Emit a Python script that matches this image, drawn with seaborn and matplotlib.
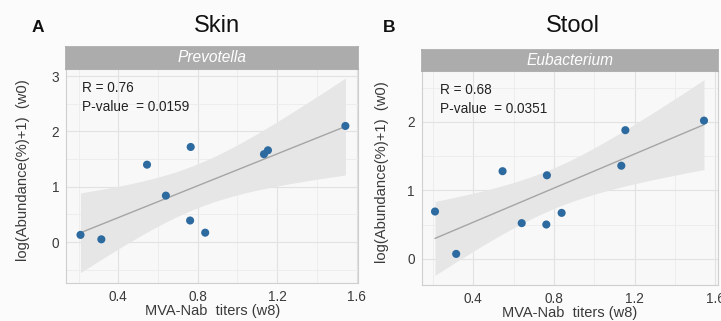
import numpy as np
import pandas as pd
import matplotlib
matplotlib.use("Agg")
import matplotlib.pyplot as plt
from matplotlib.ticker import AutoMinorLocator, FixedLocator
import seaborn as sns

# ---- data ----
titers = [0.21, 0.315, 0.545, 0.64, 0.765, 0.762, 0.838, 1.134, 1.154, 1.544]
skin_abund = [0.13, 0.05, 1.40, 0.84, 1.72, 0.39, 0.17, 1.59, 1.66, 2.10]
stool_abund = [0.69, 0.07, 1.28, 0.52, 1.22, 0.50, 0.67, 1.36, 1.88, 2.02]
panel_titles = ["Skin", "Stool"]
panel_letters = ["A", "B"]
genera = ["Prevotella", "Eubacterium"]
stats = ["R = 0.76\nP-value  = 0.0159", "R = 0.68\nP-value  = 0.0351"]
x_ticks = [0.4, 0.8, 1.2, 1.6]
y_ticks_list = [[0, 1, 2, 3], [0, 1, 2]]
T_975_DF8 = 2.306  # t quantile for a 95% band with n=10

sns.set_theme(style="whitegrid")
plt.rcParams["font.family"] = ["Liberation Sans", "DejaVu Sans"]

W, H = 721, 321
fig = plt.figure(figsize=(W / 100, H / 100), dpi=100)
fig.patch.set_facecolor("#FBFBFB")

def fx(px):
    return px / W

def fy(py):
    return 1 - py / H

layouts = [
    dict(l=66, r=358.3, t=69, b=283, st=47, xlim=(0.137, 1.609), ylim=(-0.74, 3.13),
         title_x=217, letter_x=38, ylab_x=23, stat_x=82),
    dict(l=421.5, r=717.7, t=70.7, b=285, st=50, xlim=(0.143, 1.612), ylim=(-0.385, 2.75),
         title_x=573, letter_x=389, ylab_x=382, stat_x=440),
]
ys = [skin_abund, stool_abund]

for i, lay in enumerate(layouts):
    ax = fig.add_axes([fx(lay["l"]), fy(lay["b"]), fx(lay["r"] - lay["l"]), (lay["b"] - lay["t"]) / H])
    df = pd.DataFrame({"x": titers, "y": ys[i]})

    # analytic 95% confidence band of the linear fit
    xv = np.asarray(titers)
    yv = np.asarray(ys[i])
    n = len(xv)
    slope, icpt = np.polyfit(xv, yv, 1)
    resid = yv - (slope * xv + icpt)
    s = np.sqrt(np.sum(resid ** 2) / (n - 2))
    grid = np.linspace(xv.min(), xv.max(), 200)
    se = s * np.sqrt(1 / n + (grid - xv.mean()) ** 2 / np.sum((xv - xv.mean()) ** 2))
    fit = slope * grid + icpt
    ax.fill_between(grid, fit - T_975_DF8 * se, fit + T_975_DF8 * se,
                    color="#E6E6E6", lw=0, zorder=2)

    sns.regplot(data=df, x="x", y="y", ax=ax, ci=None,
                scatter_kws=dict(s=34, color="#2D6A9F", edgecolor="none", alpha=1, zorder=4),
                line_kws=dict(color="#A5A5A5", lw=1.0, zorder=3))
    ax.set_facecolor("#F8F8F8")
    ax.set_xlim(*lay["xlim"])
    ax.set_ylim(*lay["ylim"])
    ax.xaxis.set_major_locator(FixedLocator(x_ticks))
    ax.yaxis.set_major_locator(FixedLocator(y_ticks_list[i]))
    ax.xaxis.set_minor_locator(AutoMinorLocator(2))
    ax.yaxis.set_minor_locator(AutoMinorLocator(2))
    ax.set_xticklabels([f"{v:.1f}" for v in x_ticks])
    ax.set_yticklabels([str(v) for v in y_ticks_list[i]])
    ax.grid(which="major", color="#E2E2E2", lw=0.8)
    ax.grid(which="minor", color="#ECECEC", lw=0.6)
    ax.set_axisbelow(True)
    for sp in ax.spines.values():
        sp.set_color("#CFCFCF")
        sp.set_linewidth(0.8)
    ax.tick_params(axis="both", which="major", length=2.5, width=0.6, color="#C0C0C0",
                   labelsize=9.8, labelcolor="#3A3A3A", pad=2.5)
    ax.tick_params(axis="both", which="minor", length=0)
    ax.set_xlabel("MVA-Nab  titers (w8)", fontsize=10.5, color="#3A3A3A", labelpad=0)
    ax.set_ylabel("")
    fig.text(fx(lay["ylab_x"]), fy((lay["t"] + lay["b"]) / 2 - 6), "log(Abundance(%)+1)  (w0)",
             rotation=90, ha="center", va="center", fontsize=10.6, color="#3A3A3A")
    fig.text(fx(lay["stat_x"]), fy(lay["t"] + 12), stats[i], ha="left", va="top",
             fontsize=9.8, color="#222222", linespacing=1.5)

    # strip
    sax = fig.add_axes([fx(lay["l"]), fy(lay["t"]), fx(lay["r"] - lay["l"]), (lay["t"] - lay["st"]) / H])
    sax.set_facecolor("#ACACAC")
    sax.set_xticks([])
    sax.set_yticks([])
    sax.grid(False)
    for sp in sax.spines.values():
        sp.set_color("#ACACAC")
    sax.text(0.5, 0.5, genera[i], transform=sax.transAxes, ha="center", va="center",
             fontsize=11.2, style="italic", color="white")

    fig.text(fx(lay["title_x"]), fy(26), panel_titles[i], ha="center", va="center",
             fontsize=17, color="#111111")
    fig.text(fx(lay["letter_x"]), fy(28), panel_letters[i], ha="center", va="center",
             fontsize=12.5, fontweight="bold", color="#111111")

fig.savefig("out.png", dpi=100, facecolor=fig.get_facecolor())
